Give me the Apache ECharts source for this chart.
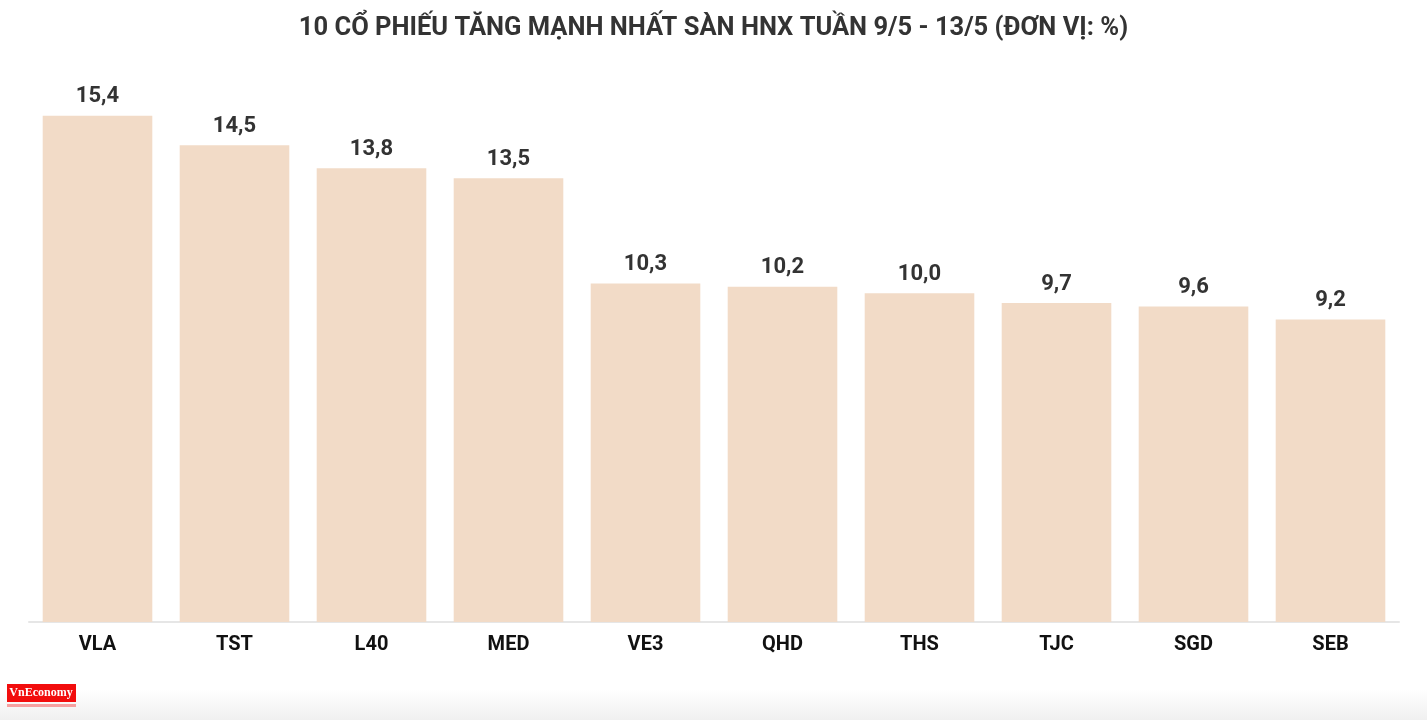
<!DOCTYPE html>
<html><head><meta charset="utf-8">
<script src="https://cdn.jsdelivr.net/npm/echarts@6/dist/echarts.min.js"></script>
<style>html,body{margin:0;padding:0;background:#fff}#c{width:1427px;height:720px}</style>
</head><body><div id="c"></div>
<script>
const categories = ['VLA','TST','L40','MED','VE3','QHD','THS','TJC','SGD','SEB'];
const values = [15.4,14.5,13.8,13.5,10.3,10.2,10.0,9.7,9.6,9.2];
const titleText = '10 CỔ PHIẾU TĂNG MẠNH NHẤT SÀN HNX TUẦN 9/5 - 13/5 (ĐƠN VỊ: %)';

const chart = echarts.init(document.getElementById('c'));
chart.setOption({
  animation:false,
  title:{text:titleText,left:'center',top:11,textStyle:{fontFamily:'Roboto',fontWeight:'bold',fontSize:25.5,color:'#333'}},
  grid:{left:29,right:28,top:96,bottom:98},
  xAxis:{type:'category',data:categories,
    axisLine:{lineStyle:{color:'#e6e6e6',width:2}},
    axisTick:{alignWithLabel:true,length:6,lineStyle:{color:'#e6e6e6',width:2}},
    axisLabel:{color:'#111',fontFamily:'Roboto',fontWeight:'bold',fontSize:20,margin:13}},
  yAxis:{type:'value',min:0,max:16,show:false,splitLine:{show:false}},
  series:[{type:'bar',data:values,barCategoryGap:'20%',
    itemStyle:{color:'#f2dbc7'},
    label:{show:true,position:'top',distance:8,color:'#333',fontFamily:'Roboto',fontWeight:'bold',fontSize:22,
      formatter:p=>p.value.toFixed(1).replace('.',',')}}],
  graphic:[
    {type:'rect',shape:{x:0,y:690,width:1427,height:30},style:{fill:new echarts.graphic.LinearGradient(0,0,0,1,[{offset:0,color:'#ffffff'},{offset:1,color:'#f0f0f0'}])},z:-1},
    {type:'rect',shape:{x:7,y:684,width:69,height:18},style:{fill:'#f20d0d'}},
    {type:'text',x:41,y:693,style:{text:'VnEconomy',fill:'#fff',font:'bold 12px "Liberation Serif"',align:'center',verticalAlign:'middle'}},
    {type:'rect',shape:{x:7,y:704,width:69,height:3},style:{fill:'#f7a0a0'}}
  ]
});
</script></body></html>
